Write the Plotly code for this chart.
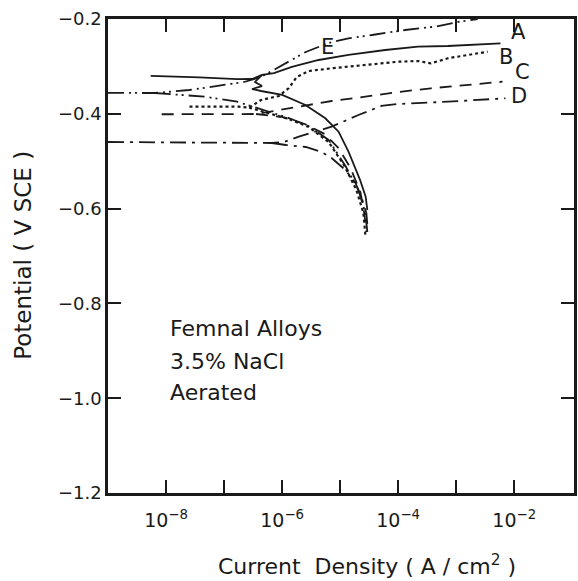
import plotly.graph_objects as go

# ---- data: log10(current density, A/cm^2) and potential (V SCE) ----
A_an_logi = [-8.264, -7.425, -6.774, -6.517, -6.346, -6.14, -5.832, -5.37, -4.856, -4.223, -3.658, -3.144, -2.236]
A_an_E    = [-0.320, -0.323, -0.327, -0.3266, -0.318, -0.314, -0.301, -0.2865, -0.2759, -0.2654, -0.2584, -0.257, -0.2513]
A_ca_logi = [-6.346, -6.466, -6.346, -6.517, -6.363, -5.998, -5.598, -5.255, -5.027, -4.856, -4.656, -4.560, -4.531]
A_ca_E    = [-0.318, -0.3329, -0.3414, -0.3477, -0.3519, -0.3603, -0.3814, -0.4095, -0.4378, -0.48, -0.5397, -0.5749, -0.603]

B_an_logi = [-7.596, -6.740, -6.568, -6.363, -6.055, -5.884, -5.747, -5.541, -5.147, -4.514, -4.0, -3.658, -3.435, -3.144, -2.459]
B_an_E    = [-0.385, -0.385, -0.387, -0.3709, -0.3624, -0.3456, -0.3224, -0.3097, -0.304, -0.297, -0.2901, -0.2886, -0.2935, -0.2829, -0.269]
B_ca_logi = [-6.568, -6.312, -5.884, -5.541, -5.199, -4.925, -4.719, -4.599, -4.565]
B_ca_E    = [-0.387, -0.3962, -0.411, -0.4278, -0.4595, -0.5101, -0.5608, -0.6093, -0.6557]

C_an_logi = [-8.075, -6.449, -6.14, -5.712, -5.147, -4.565, -4.0, -3.435, -2.801, -2.202]
C_an_E    = [-0.401, -0.4004, -0.394, -0.385, -0.373, -0.3639, -0.354, -0.3462, -0.3392, -0.3323]
C_ca_logi = [-6.449, -6.003, -5.61, -5.267, -5.027, -4.822, -4.651, -4.582, -4.548]
C_ca_E    = [-0.4004, -0.4067, -0.4215, -0.4426, -0.4722, -0.5143, -0.565, -0.6114, -0.6494]

D_an_logi = [-9.0, -6.175, -5.969, -5.712, -5.147, -4.685, -4.291, -4.0, -3.144, -2.151]
D_an_E    = [-0.4595, -0.4616, -0.4595, -0.4483, -0.4272, -0.4025, -0.3835, -0.3793, -0.3745, -0.3673]
D_ca_logi = [-6.175, -5.935, -5.592, -5.318, -5.147, -4.908, -4.736, -4.634, -4.548, -4.531]
D_ca_E    = [-0.4616, -0.4658, -0.47, -0.4806, -0.4932, -0.5186, -0.546, -0.5755, -0.6093, -0.6346]

E_an_logi = [-9.0, -8.195, -7.596, -7.082, -6.654, -6.363, -6.14, -5.884, -5.592, -5.199, -4.856, -4.394, -3.880, -3.366, -2.973, -2.630]
E_an_E    = [-0.356, -0.3561, -0.3498, -0.3414, -0.3329, -0.3224, -0.3076, -0.2907, -0.2696, -0.2506, -0.2407, -0.2327, -0.2232, -0.2162, -0.2063, -0.2]
E_ca_logi = [-8.195, -7.733, -7.339, -6.774, -6.312, -5.884, -5.541, -5.199, -4.908, -4.685, -4.565, -4.531]
E_ca_E    = [-0.3561, -0.3603, -0.3639, -0.3745, -0.392, -0.4089, -0.4257, -0.4553, -0.5101, -0.5608, -0.6093, -0.6494]

curve_names = ["A", "B", "C", "D", "E"]
label_logi = [-1.92, -2.15, -1.86, -1.92, -5.21]
label_E    = [-0.2268, -0.2797, -0.3125, -0.3625, -0.2585]

x_tickvals = [1e-8, 1e-6, 1e-4, 1e-2]
x_ticktext = ["10<sup>−8</sup>", "10<sup>−6</sup>", "10<sup>−4</sup>", "10<sup>−2</sup>"]
x_minor_tickvals = [1e-7, 1e-5, 1e-3]

note_lines = ["Femnal Alloys", "3.5% NaCl", "Aerated"]
note_E = [-0.852, -0.922, -0.987]

x_title = "Current  Density ( A / cm<sup>2</sup> )"
y_title = "Potential ( V SCE )"

ink = "#1a1a1a"
FONT = "DejaVu Sans"
styles = {
    "A": "solid",
    "B": "dot",
    "C": "12px,8px",
    "D": "16px,6px,3px,6px",
    "E": "16px,5px,2px,4px,2px,5px",
}
series = {
    "A": (A_an_logi, A_an_E, A_ca_logi, A_ca_E),
    "B": (B_an_logi, B_an_E, B_ca_logi, B_ca_E),
    "C": (C_an_logi, C_an_E, C_ca_logi, C_ca_E),
    "D": (D_an_logi, D_an_E, D_ca_logi, D_ca_E),
    "E": (E_an_logi, E_an_E, E_ca_logi, E_ca_E),
}

fig = go.Figure()
for name in curve_names:
    xa, ya, xc, yc = series[name]
    xs = [10 ** v for v in xa] + [None] + [10 ** v for v in xc]
    ys = list(ya) + [None] + list(yc)
    fig.add_trace(go.Scatter(
        x=xs, y=ys, mode="lines", name=name, connectgaps=False,
        line=dict(color=ink, width=1.8 if name != "B" else 2.2, dash=styles[name]),
        showlegend=False,
    ))

for name, lx, ly in zip(curve_names, label_logi, label_E):
    fig.add_annotation(x=lx, y=ly, text=name, showarrow=False,
                       font=dict(size=21, color=ink, family=FONT))

for t, ly in zip(note_lines, note_E):
    fig.add_annotation(x=-7.97, y=ly, text=t, showarrow=False, xanchor="left",
                       font=dict(size=22, color=ink, family=FONT))

# axis titles placed as annotations for precise positioning
fig.add_annotation(xref="paper", yref="paper", x=0.556, y=-0.152, text=x_title,
                   showarrow=False, xanchor="center", yanchor="middle",
                   font=dict(size=22, color=ink, family=FONT))
fig.add_annotation(xref="paper", yref="paper", x=-0.183, y=0.502, text=y_title,
                   showarrow=False, xanchor="center", yanchor="middle", textangle=-90,
                   font=dict(size=23, color=ink, family=FONT))

axis_common = dict(
    showline=True, linecolor=ink, linewidth=2.5, mirror="ticks",
    ticks="inside", ticklen=13, tickwidth=2, tickcolor=ink,
    showgrid=False, zeroline=False,
)

fig.update_xaxes(
    type="log", range=[-9, -0.97],
    tickmode="array", tickvals=x_tickvals, ticktext=x_ticktext, ticklabelstandoff=8,
    minor=dict(tickmode="array", tickvals=x_minor_tickvals, ticks="inside",
               ticklen=13, tickwidth=2, tickcolor=ink, showgrid=False),
    tickfont=dict(size=19, color=ink, family=FONT),
    **axis_common,
)
fig.update_yaxes(
    range=[-1.2, -0.2], dtick=0.2, tick0=-1.2, tickformat=".1f",
    tickfont=dict(size=18, color=ink, family=FONT),
    **axis_common,
)

fig.update_layout(
    width=578, height=581,
    margin=dict(l=108, r=1, t=19, b=88),
    paper_bgcolor="white", plot_bgcolor="white",
    font=dict(family=FONT, color=ink),
)

fig.write_html("out.html")
